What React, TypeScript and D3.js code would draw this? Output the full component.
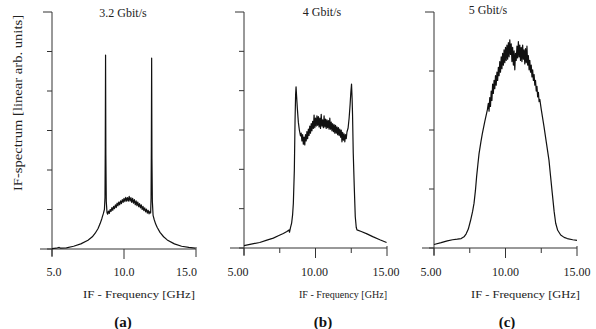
import React from "react";
import * as d3 from "d3";

// ---------- DATA ----------
const titles = ["3.2 Gbit/s", "4 Gbit/s", "5 Gbit/s"];
const panelLetters = ["(a)", "(b)", "(c)"];
const xLabel = "IF - Frequency [GHz]";
const yLabel = "IF-spectrum [linear arb. units]";
const xTickLabelsA = ["5.0", "10.0", "15.0"];
const xTickLabelsBC = ["5.00", "10.00", "15.00"];
const xMajorTicks = [5, 10, 15];
const xMinorTicks = [7.5, 12.5];
const yTicksAB = [0, 1, 2, 3, 4, 5, 6];
const yTicksC = [0, 1, 2, 3, 4];

// spectrum (a): [GHz, arb. units 0..6]
const spectrumA: [number, number][] = [
  [5.0, 0.01], [5.3, 0.02], [5.5, 0.04], [5.6, 0.02], [6.0, 0.03], [6.5, 0.07], [7.0, 0.13],
  [7.5, 0.22], [7.8, 0.31], [8.0, 0.4], [8.2, 0.52], [8.35, 0.65], [8.47, 0.78], [8.57, 0.9],
  [8.64, 1.0], [8.68, 1.3], [8.7, 2.6], [8.72, 4.91], [8.74, 2.4], [8.77, 1.2], [8.82, 0.92],
  [8.86, 0.88], [8.92, 0.96], [8.98, 0.9], [9.04, 1.0], [9.1, 0.95], [9.16, 1.05], [9.22, 0.98],
  [9.28, 1.08], [9.34, 1.02], [9.4, 1.12], [9.46, 1.05], [9.52, 1.16], [9.58, 1.09], [9.64, 1.19],
  [9.7, 1.12], [9.76, 1.22], [9.82, 1.15], [9.88, 1.25], [9.94, 1.18], [10.0, 1.28], [10.06, 1.2],
  [10.12, 1.31], [10.18, 1.21], [10.24, 1.3], [10.3, 1.21], [10.36, 1.33], [10.42, 1.21],
  [10.48, 1.3], [10.54, 1.18], [10.6, 1.28], [10.66, 1.16], [10.72, 1.25], [10.78, 1.12],
  [10.84, 1.22], [10.9, 1.1], [10.96, 1.19], [11.02, 1.07], [11.08, 1.15], [11.14, 1.04],
  [11.2, 1.12], [11.26, 1.0], [11.32, 1.08], [11.38, 0.97], [11.44, 1.04], [11.5, 0.94],
  [11.56, 1.01], [11.62, 0.91], [11.68, 0.98], [11.74, 0.89], [11.8, 0.95], [11.85, 0.91],
  [11.88, 1.3], [11.9, 2.6], [11.92, 4.83], [11.94, 2.3], [11.97, 1.2], [12.02, 0.85],
  [12.1, 0.74], [12.2, 0.63], [12.3, 0.55], [12.5, 0.42], [12.75, 0.31], [13.0, 0.23],
  [13.5, 0.13], [14.0, 0.07], [14.5, 0.04], [14.95, 0.02],
];

// spectrum (b): [GHz, arb. units 0..6]
const spectrumB: [number, number][] = [
  [5.0, 0.06], [5.5, 0.1], [6.1, 0.14], [6.6, 0.2], [7.05, 0.25], [7.4, 0.31], [7.75, 0.37],
  [8.0, 0.42], [8.15, 0.46], [8.18, 0.4], [8.25, 0.52], [8.33, 0.63], [8.4, 0.85], [8.45, 1.13],
  [8.52, 1.98], [8.57, 3.25], [8.61, 3.9], [8.64, 4.1], [8.68, 3.85], [8.73, 3.55], [8.8, 3.2],
  [8.87, 3.0], [8.95, 2.85], [9.0, 2.92], [9.05, 2.72], [9.1, 2.88], [9.15, 2.64], [9.2, 2.82],
  [9.25, 2.62], [9.3, 2.88], [9.35, 2.72], [9.4, 2.96], [9.45, 2.78], [9.5, 3.02], [9.55, 2.86],
  [9.6, 3.1], [9.65, 2.92], [9.7, 3.16], [9.75, 2.98], [9.8, 3.22], [9.85, 3.04], [9.9, 3.38],
  [9.95, 3.06], [10.0, 3.3], [10.05, 3.1], [10.1, 3.36], [10.15, 3.12], [10.2, 3.34],
  [10.25, 3.08], [10.3, 3.3], [10.35, 3.04], [10.4, 3.4], [10.45, 3.1], [10.5, 3.26],
  [10.55, 3.06], [10.6, 3.36], [10.65, 3.08], [10.7, 3.28], [10.75, 3.04], [10.8, 3.26],
  [10.85, 3.06], [10.9, 3.24], [10.95, 3.02], [11.0, 3.3], [11.05, 3.02], [11.1, 3.2],
  [11.15, 2.98], [11.2, 3.16], [11.25, 2.96], [11.3, 3.14], [11.35, 2.92], [11.4, 3.12],
  [11.45, 2.92], [11.5, 3.08], [11.55, 2.88], [11.6, 3.06], [11.65, 2.86], [11.7, 3.02],
  [11.75, 2.82], [11.8, 3.0], [11.85, 2.7], [11.9, 2.94], [11.95, 2.74], [12.0, 2.9],
  [12.05, 2.7], [12.1, 2.88], [12.15, 2.78], [12.2, 2.95], [12.28, 3.05], [12.35, 3.3],
  [12.42, 3.65], [12.47, 3.95], [12.52, 4.17], [12.56, 3.8], [12.59, 3.4], [12.64, 2.41],
  [12.71, 1.56], [12.78, 0.8], [12.85, 0.52], [12.9, 0.46], [13.2, 0.42], [13.6, 0.36],
  [14.0, 0.29], [14.5, 0.21], [14.97, 0.14],
];

// spectrum (c): [GHz, arb. units 0..4]
const spectrumC: [number, number][] = [
  [5.0, 0.06], [5.5, 0.09], [5.93, 0.12], [6.3, 0.14], [6.63, 0.15], [6.9, 0.16], [7.1, 0.19],
  [7.25, 0.24], [7.4, 0.32], [7.56, 0.47], [7.7, 0.62], [7.8, 0.76], [7.9, 0.98], [7.98, 1.21],
  [8.07, 1.42], [8.15, 1.6], [8.28, 1.8], [8.38, 1.94], [8.55, 2.14], [8.73, 2.34], [8.8, 2.45],
  [8.85, 2.32], [8.9, 2.55], [8.95, 2.4], [9.0, 2.66], [9.05, 2.5], [9.1, 2.78], [9.15, 2.62],
  [9.2, 2.84], [9.25, 2.7], [9.3, 2.92], [9.35, 2.76], [9.4, 2.98], [9.45, 2.84], [9.5, 3.06],
  [9.55, 2.92], [9.6, 3.16], [9.65, 2.98], [9.7, 3.24], [9.75, 3.04], [9.8, 3.3], [9.85, 3.1],
  [9.9, 3.36], [9.95, 3.14], [10.0, 3.4], [10.05, 3.18], [10.1, 3.44], [10.15, 3.2],
  [10.2, 3.48], [10.25, 3.24], [10.3, 3.53], [10.35, 3.28], [10.4, 3.46], [10.45, 3.16],
  [10.5, 3.4], [10.55, 3.1], [10.6, 3.34], [10.65, 3.02], [10.7, 3.3], [10.75, 3.18],
  [10.8, 3.42], [10.85, 3.22], [10.9, 3.5], [10.95, 3.24], [11.0, 3.44], [11.05, 3.18],
  [11.1, 3.4], [11.15, 3.16], [11.2, 3.44], [11.25, 3.2], [11.3, 3.36], [11.35, 3.12],
  [11.4, 3.38], [11.45, 3.14], [11.5, 3.42], [11.55, 3.1], [11.6, 3.26], [11.65, 3.02],
  [11.7, 3.18], [11.75, 2.98], [11.8, 3.1], [11.85, 2.9], [11.9, 3.02], [11.95, 2.84],
  [12.0, 2.94], [12.05, 2.76], [12.1, 2.84], [12.15, 2.66], [12.2, 2.74], [12.25, 2.56],
  [12.3, 2.64], [12.35, 2.48], [12.4, 2.52], [12.5, 2.35], [12.69, 2.06], [12.85, 1.8],
  [13.04, 1.49], [13.15, 1.22], [13.27, 0.93], [13.4, 0.62], [13.51, 0.42], [13.65, 0.3],
  [13.86, 0.22], [14.1, 0.18], [14.32, 0.16], [14.7, 0.14], [15.0, 0.13],
];

const FONT = "'Times New Roman', 'Liberation Serif', 'DejaVu Serif', serif";
const AXIS = "#333";
const INK = "#111";

type PanelProps = {
  x0: number; x1: number; yTop: number; yBase: number;
  yMax: number; yTicks: number[]; data: [number, number][];
  title: string; titleX: number; titleY: number;
  letter: string; letterX: number;
  tickLabels: string[]; tickDx: number[]; tickAnchor: ("start" | "middle" | "end")[];
  xLabelX: number; xLabelLen: number; minor: boolean; leftExt: number;
};

function Panel(p: PanelProps) {
  const x = d3.scaleLinear().domain([5, 15]).range([p.x0, p.x1]);
  const y = d3.scaleLinear().domain([0, p.yMax]).range([p.yBase, p.yTop]);
  const line = d3.line<[number, number]>().x(d => x(d[0])).y(d => y(d[1]));
  return (
    <g>
      <line x1={p.x0 - p.leftExt} x2={p.x1} y1={p.yBase} y2={p.yBase} stroke={AXIS} strokeWidth={1} />
      <line x1={p.x0} x2={p.x0} y1={y(p.yMax)} y2={p.yBase + 7} stroke={AXIS} strokeWidth={1} />
      {p.yTicks.map((t, i) => (
        <line key={"yt" + i} x1={p.x0 - (t === p.yMax ? 9 : 5)} x2={p.x0} y1={y(t)} y2={y(t)} stroke={AXIS} strokeWidth={1} />
      ))}
      {xMajorTicks.map((t, i) => (
        <line key={"xt" + i} x1={x(t)} x2={x(t)} y1={t === 15 ? p.yBase - 2 : p.yBase} y2={p.yBase + (t === 10 ? 10 : 8)} stroke={AXIS} strokeWidth={1} />
      ))}
      {p.minor && xMinorTicks.map((t, i) => (
        <line key={"xm" + i} x1={x(t)} x2={x(t)} y1={p.yBase} y2={p.yBase + 5} stroke={AXIS} strokeWidth={1} />
      ))}
      {xMajorTicks.map((t, i) => (
        <text key={"xl" + i} x={x(t) + p.tickDx[i]} y={276} textAnchor={p.tickAnchor[i]}
          fontFamily={FONT} fontSize={12} fill="#222">{p.tickLabels[i]}</text>
      ))}
      <path d={line(p.data) || ""} fill="none" stroke={INK} strokeWidth={1.2} strokeLinejoin="round" />
      <text x={p.titleX} y={p.titleY} textAnchor="middle" fontFamily={FONT} fontSize={12} fill="#222">{p.title}</text>
      <text x={p.xLabelX} y={298} fontFamily={FONT} fontSize={11} fill="#222"
        textLength={p.xLabelLen} lengthAdjust="spacingAndGlyphs">{xLabel}</text>
      <text x={p.letterX} y={327} textAnchor="middle" fontFamily={FONT} fontSize={15} fontWeight="bold" fill="#111">{p.letter}</text>
    </g>
  );
}

export default function App() {
  return (
    <svg width={596} height={329} style={{ position: "absolute", left: 0, top: 0, background: "#fff" }}>
      <rect width={596} height={329} fill="#fff" />
      <text transform="translate(22,103) rotate(-90)" textAnchor="middle" fontFamily={FONT} fontSize={12}
        fill="#222" textLength={176} lengthAdjust="spacingAndGlyphs">{yLabel}</text>
      <Panel x0={52} x1={196} yTop={12} yBase={249} yMax={6} yTicks={yTicksAB} data={spectrumA}
        title={titles[0]} titleX={123} titleY={17} letter={panelLetters[0]} letterX={123}
        tickLabels={xTickLabelsA} tickDx={[2, 0, 1]} tickAnchor={["middle", "middle", "end"]}
        xLabelX={83} xLabelLen={112} minor={false} leftExt={12} />
      <Panel x0={244} x1={387} yTop={12} yBase={248} yMax={6} yTicks={yTicksAB} data={spectrumB}
        title={titles[1]} titleX={322} titleY={16} letter={panelLetters[1]} letterX={323}
        tickLabels={xTickLabelsBC} tickDx={[-6, -1, -1]} tickAnchor={["middle", "middle", "middle"]}
        xLabelX={299} xLabelLen={88} minor={true} leftExt={14} />
      <Panel x0={434} x1={577} yTop={12} yBase={248} yMax={4} yTicks={yTicksC} data={spectrumC}
        title={titles[2]} titleX={488} titleY={14} letter={panelLetters[2]} letterX={507}
        tickLabels={xTickLabelsBC} tickDx={[-3, 0, 0]} tickAnchor={["middle", "middle", "middle"]}
        xLabelX={471} xLabelLen={109} minor={true} leftExt={12} />
    </svg>
  );
}
